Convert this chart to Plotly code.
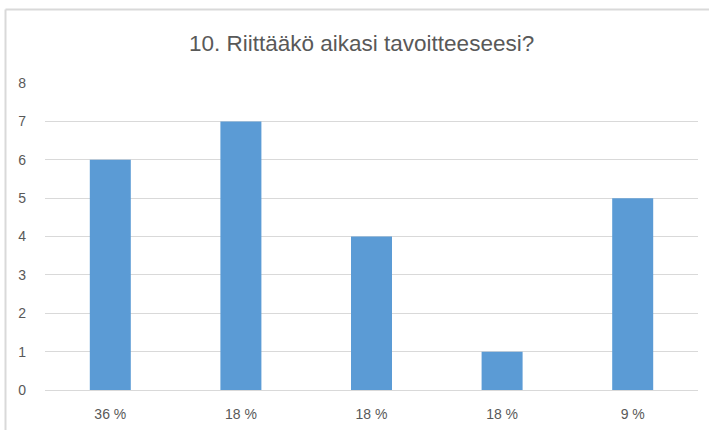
import plotly.graph_objects as go

title = "10. Riittääkö aikasi tavoitteeseesi?"
tick_labels = ["36 %", "18 %", "18 %", "18 %", "9 %"]
counts = [6, 7, 4, 1, 5]
positions = list(range(len(tick_labels)))

font_family = "Liberation Sans, Arial, sans-serif"
text_color = "#595959"
grid_color = "#d9d9d9"
bar_color = "#5b9bd5"

fig = go.Figure(
    go.Bar(
        x=positions,
        y=counts,
        marker=dict(color=bar_color, line=dict(width=0)),
        width=0.314,
        hoverinfo="y",
    )
)

fig.update_layout(
    width=709,
    height=430,
    margin=dict(l=45, r=11, t=83, b=40, autoexpand=False),
    paper_bgcolor="white",
    plot_bgcolor="white",
    showlegend=False,
    title=dict(
        text=title,
        x=0.51,
        xanchor="center",
        y=0.9,
        yanchor="middle",
        yref="container",
        font=dict(family=font_family, size=22.5, color=text_color),
    ),
    font=dict(family=font_family, size=14, color=text_color),
)

fig.update_xaxes(
    tickmode="array",
    tickvals=positions,
    ticktext=tick_labels,
    range=[-0.5, len(tick_labels) - 0.5],
    showgrid=False,
    showline=False,
    zeroline=False,
    ticks="",
    automargin=False,
    ticklabelstandoff=14,
    tickfont=dict(size=14, color=text_color),
)

fig.update_yaxes(
    range=[0, 8],
    dtick=1,
    showgrid=True,
    gridcolor=grid_color,
    gridwidth=1,
    zeroline=True,
    zerolinecolor=grid_color,
    zerolinewidth=1,
    showline=False,
    ticks="",
    automargin=False,
    ticklabelstandoff=18,
    tickfont=dict(size=14, color=text_color),
)

# chart frame: top and left edges
fig.add_shape(type="line", xref="paper", yref="paper",
              x0=-0.0605, x1=1.02, y0=1.2394, y1=1.2394,
              line=dict(color=grid_color, width=2))
fig.add_shape(type="line", xref="paper", yref="paper",
              x0=-0.0605, x1=-0.0605, y0=1.2394, y1=-0.2,
              line=dict(color=grid_color, width=2))

fig.write_html("out.html")
